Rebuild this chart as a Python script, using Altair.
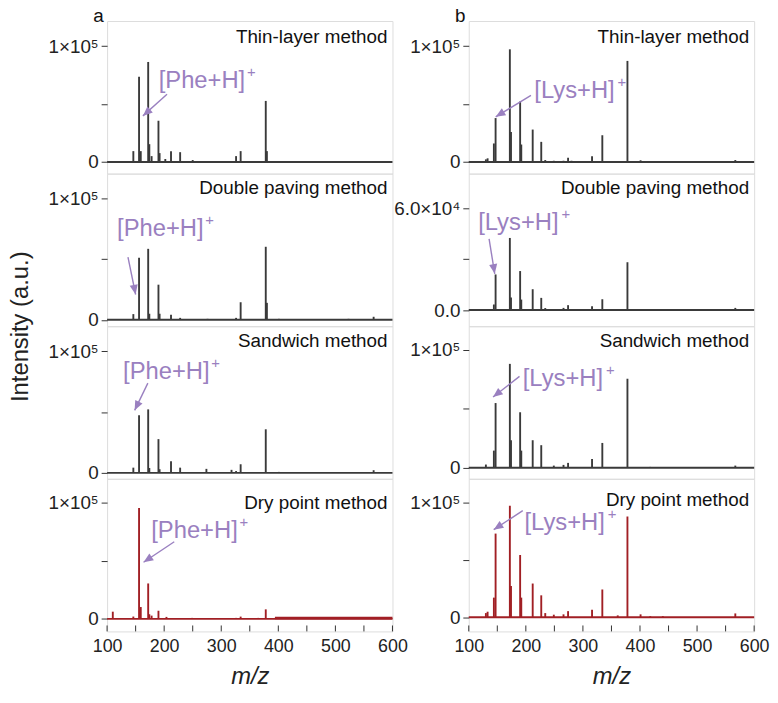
import math
import altair as alt
import pandas as pd

FONT = "Liberation Sans"
GRAY = "#3a3a3a"
RED = "#a11f24"
PURPLE = "#9a80c0"
FRAME = "#5a5a5a"
W, H = 288, 154
MZ_DOMAIN = [100, 600]

# ---------------- data ----------------
x_label_vals = [100, 200, 300, 400, 500, 600]
x_tick_vals = [100, 150, 200, 250, 300, 350, 400, 450, 500, 550, 600]

methods = ["Thin-layer method", "Double paving method", "Sandwich method", "Dry point method"]

# (a) Phe
phe_thin_mz = [146, 156, 159, 172, 174, 178, 190, 192, 202, 212, 228, 250, 326, 334, 378, 380]
phe_thin_int = [9400, 73500, 9400, 86300, 15400, 5100, 35600, 7700, 2600, 9400, 8500, 1700, 5100, 9400, 52700, 9400]
phe_double_mz = [146, 156, 172, 174, 190, 192, 212, 228, 276, 326, 334, 378, 380, 401, 523, 567]
phe_double_int = [4700, 51200, 58600, 5000, 29000, 5000, 4100, 1600, 800, 1600, 14500, 60300, 14000, 800, 800, 2500]
phe_sandwich_mz = [146, 156, 172, 174, 190, 192, 212, 228, 274, 318, 326, 334, 378, 401, 567]
phe_sandwich_int = [4300, 47400, 52300, 4000, 27800, 3000, 9600, 4300, 3300, 2500, 1500, 7100, 35900, 800, 2200]
phe_dry_mz = [110, 146, 156, 159, 172, 174, 178, 190, 204, 249, 326, 334, 365, 378]
phe_dry_int = [6200, 2000, 95500, 10200, 30500, 4000, 2800, 7000, 1700, 850, 850, 1950, 850, 8200]
phe_dry_shelf_mz = [394, 600]
phe_dry_shelf_int = 700

# (b) Lys
lys_thin_mz = [130, 133, 144, 147, 172, 174, 190, 192, 212, 227, 234, 249, 266, 274, 280, 316, 334, 378, 401, 567]
lys_thin_int = [2300, 3200, 16000, 37900, 97200, 25900, 52200, 15100, 28000, 17400, 1700, 1100, 1100, 3700, 1100, 4900, 23100, 87200, 1500, 1700]
lys_double_mz = [144, 147, 172, 174, 190, 192, 212, 227, 234, 266, 274, 302, 316, 334, 378, 401, 567]
lys_double_int = [3300, 21000, 42500, 7400, 23000, 6200, 12300, 7200, 1200, 1300, 2900, 600, 2200, 6400, 28200, 600, 1300]
lys_sandwich_mz = [130, 144, 147, 172, 174, 190, 192, 212, 227, 249, 266, 274, 316, 334, 378, 418, 567]
lys_sandwich_int = [2800, 14600, 54900, 88100, 23400, 47100, 14600, 23400, 19200, 1900, 2500, 4200, 7600, 21100, 75500, 800, 1900]
lys_dry_mz = [130, 133, 144, 147, 172, 174, 190, 192, 212, 227, 234, 249, 266, 274, 316, 334, 361, 378, 401, 418, 440, 567]
lys_dry_int = [3700, 4900, 17200, 73100, 97400, 27300, 54400, 17200, 29500, 19200, 3700, 2300, 2600, 5400, 6600, 24300, 1700, 88000, 2600, 1000, 1000, 3400]

# y domains per panel
phe_ydomains = [[-10000, 121600], [-5300, 120700], [-4900, 120800], [-10800, 120600]]
lys_ydomains = [[-10000, 121600], [-9500, 80400], [-9300, 120000], [-12300, 120900]]

# annotation: label anchor (mz, intensity), arrow from (mz, intensity) to tip (mz, intensity)
phe_label_mz = [190.4, 117.5, 128.0, 177.3]
phe_label_int = [63500, 69100, 77600, 69700]
phe_arrow_from_mz = [205.0, 136.6, 171.4, 217.7]
phe_arrow_from_int = [58400, 51700, 73900, 66400]
phe_arrow_to_mz = [162.7, 150.0, 148.3, 163.9]
phe_arrow_to_int = [39800, 20900, 51500, 48800]

lys_label_mz = [214.9, 116.5, 194.6, 197.6]
lys_label_int = [54900, 47100, 69300, 76200]
lys_arrow_from_mz = [209.0, 135.6, 188.9, 194.6]
lys_arrow_from_int = [57500, 41900, 77500, 93100]
lys_arrow_to_mz = [147.2, 145.5, 142.5, 143.7]
lys_arrow_to_int = [39000, 21400, 60000, 76500]

LABEL_100K = "datum.value == 100000 ? '1×10⁵' : datum.value == 0 ? '0' : ''"
LABEL_60K = "datum.value == 60000 ? '6.0×10⁴' : datum.value == 0 ? '0.0' : ''"


def panel(idx, mz, inten, color, ydom, ion, ion_w, lab, arr, letter=None,
          ytick_vals=(0, 50000, 100000), ylabel_expr=LABEL_100K, ytitle=False, shelf=None,
          method_y=(22, 22, 22, 29)):
    bottom = idx == 3
    xs = alt.Scale(domain=MZ_DOMAIN, nice=False, zero=False)
    ys = alt.Scale(domain=ydom, nice=False, zero=False)
    if bottom:
        xaxis = alt.Axis(values=x_label_vals, ticks=False, domain=False, grid=False,
                         labelFlush=False, labelOverlap=False,
                         labelFont=FONT, labelFontSize=18, labelColor="#222", labelPadding=6,
                         title="m/z", titleFont=FONT, titleFontSize=24, titleFontStyle="italic",
                         titleFontWeight="normal", titleColor="#222", titlePadding=10)
    else:
        xaxis = None
    yargs = dict(values=list(ytick_vals), labelExpr=ylabel_expr, domain=False, grid=False,
                 tickSize=6, tickColor="#333", labelFont=FONT, labelFontSize=19,
                 labelColor="#222", labelPadding=3, labelOverlap=False)
    if ytitle:
        yaxis = alt.Axis(title="Intensity (a.u.)", titleFont=FONT, titleFontSize=24,
                         titleFontWeight="normal", titleColor="#222", titleAngle=270,
                         titleX=-87, titleY=H, titleAlign="center", titleBaseline="middle", **yargs)
    else:
        yaxis = alt.Axis(title=None, **yargs)

    def X(f):
        return alt.X(f + ":Q", scale=xs, axis=xaxis)

    def Y(f):
        return alt.Y(f + ":Q", scale=ys, axis=yaxis)

    peaks = pd.DataFrame({"mz": mz, "inten": inten, "base": [0] * len(mz)})
    base_df = pd.DataFrame({"mz": [MZ_DOMAIN[0]], "mz2": [MZ_DOMAIN[1]], "inten": [0]})

    layers = []
    layers.append(alt.Chart(peaks).mark_rule(color=color, strokeWidth=1.9).encode(
        x=X("mz"), y=Y("inten"), y2="base:Q"))
    layers.append(alt.Chart(base_df).mark_rule(color=color, strokeWidth=2).encode(
        x=X("mz"), x2="mz2:Q", y=Y("inten")))
    if shelf is not None:
        sh = pd.DataFrame({"mz": [shelf[0][0]], "mz2": [shelf[0][1]], "inten": [shelf[1]]})
        layers.append(alt.Chart(sh).mark_rule(color=color, strokeWidth=2.5).encode(
            x=X("mz"), x2="mz2:Q", y=Y("inten")))
    if bottom:
        tdf = pd.DataFrame({"mz": x_tick_vals})
        layers.append(alt.Chart(tdf).mark_rule(color="#333", strokeWidth=1).encode(
            x=X("mz"), y=alt.value(H), y2=alt.value(H - 6)))
    # method label
    mdf = pd.DataFrame({"t": [methods[idx]]})
    layers.append(alt.Chart(mdf).mark_text(align="right", baseline="alphabetic", font=FONT,
                                           fontSize=19, color="#111").encode(
        x=alt.value(W - 5), y=alt.value(method_y[idx]), text="t:N"))
    # ion label
    ldf = pd.DataFrame({"mz": [lab[0]], "inten": [lab[1]], "t": [ion], "p": ["+"]})
    layers.append(alt.Chart(ldf).mark_text(align="left", baseline="alphabetic", font=FONT,
                                           fontSize=24, color=PURPLE).encode(
        x=X("mz"), y=Y("inten"), text="t:N"))
    layers.append(alt.Chart(ldf).mark_text(align="left", baseline="alphabetic", font=FONT,
                                           fontSize=15, color=PURPLE, dx=ion_w, dy=-11).encode(
        x=X("mz"), y=Y("inten"), text="p:N"))
    # arrow
    sx = W / (MZ_DOMAIN[1] - MZ_DOMAIN[0])
    sy = H / (ydom[1] - ydom[0])
    dxp = (arr[2] - arr[0]) * sx
    dyp = -(arr[3] - arr[1]) * sy
    ang = math.degrees(math.atan2(dxp, -dyp)) % 360
    adf = pd.DataFrame({"mz": [arr[0]], "inten": [arr[1]], "mz2": [arr[2]], "inten2": [arr[3]]})
    layers.append(alt.Chart(adf).mark_rule(color=PURPLE, strokeWidth=1.4).encode(
        x=X("mz"), y=Y("inten"), x2="mz2:Q", y2="inten2:Q"))
    hdf = pd.DataFrame({"mz": [arr[2]], "inten": [arr[3]]})
    layers.append(alt.Chart(hdf).mark_point(shape="M0,0L0.42,1L-0.42,1Z", size=380, filled=True,
                                            opacity=1, color=PURPLE, angle=ang, strokeWidth=0).encode(
        x=X("mz"), y=Y("inten")))
    if letter:
        ldf2 = pd.DataFrame({"t": [letter]})
        layers.append(alt.Chart(ldf2).mark_text(align="left", baseline="alphabetic", font=FONT,
                                                fontSize=19, color="#111").encode(
            x=alt.value(-14), y=alt.value(1), text="t:N"))
    return alt.layer(*layers).properties(width=W, height=H)


phe_data = [(phe_thin_mz, phe_thin_int), (phe_double_mz, phe_double_int),
            (phe_sandwich_mz, phe_sandwich_int), (phe_dry_mz, phe_dry_int)]
lys_data = [(lys_thin_mz, lys_thin_int), (lys_double_mz, lys_double_int),
            (lys_sandwich_mz, lys_sandwich_int), (lys_dry_mz, lys_dry_int)]

left_panels = []
right_panels = []
for i in range(4):
    col = RED if i == 3 else GRAY
    left_panels.append(panel(
        i, phe_data[i][0], phe_data[i][1], col, phe_ydomains[i], "[Phe+H]", 89,
        (phe_label_mz[i], phe_label_int[i]),
        (phe_arrow_from_mz[i], phe_arrow_from_int[i], phe_arrow_to_mz[i], phe_arrow_to_int[i]),
        letter="a" if i == 0 else None, ytitle=(i == 1),
        shelf=((phe_dry_shelf_mz, phe_dry_shelf_int) if i == 3 else None),
        method_y=(22, 21, 21, 30)))
    right_panels.append(panel(
        i, lys_data[i][0], lys_data[i][1], col, lys_ydomains[i], "[Lys+H]", 84,
        (lys_label_mz[i], lys_label_int[i]),
        (lys_arrow_from_mz[i], lys_arrow_from_int[i], lys_arrow_to_mz[i], lys_arrow_to_int[i]),
        letter="b" if i == 0 else None,
        ytick_vals=((0, 30000, 60000) if i == 1 else (0, 50000, 100000)),
        ylabel_expr=(LABEL_60K if i == 1 else LABEL_100K),
        method_y=(22, 21, 21, 27)))

left_col = alt.vconcat(*left_panels, spacing=0, bounds="flush").resolve_scale(x="independent", y="independent")
right_col = alt.vconcat(*right_panels, spacing=0, bounds="flush").resolve_scale(x="independent", y="independent")

chart = alt.hconcat(left_col, right_col, spacing=-16).resolve_scale(
    x="independent", y="independent"
).properties(
    padding={"left": 0, "top": -5, "right": 0, "bottom": 0}
).configure_view(stroke=FRAME, strokeWidth=1.2).configure(background="white")

chart.save("out.html", embed_options={"renderer": "svg", "actions": False})
